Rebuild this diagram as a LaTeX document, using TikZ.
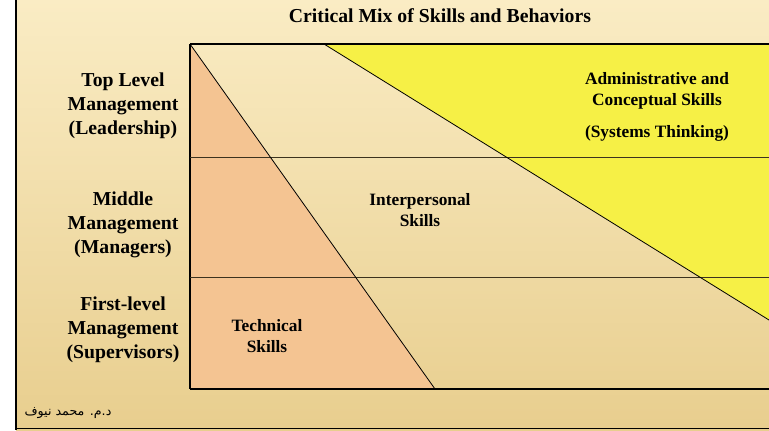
\documentclass[tikz,border=0pt]{standalone}
\usepackage{fontspec}
\setmainfont{Liberation Serif}
\newfontfamily\arabicfont[Script=Arabic]{DejaVu Sans}
\TeXXeTstate=1
\tikzset{every picture/.style={line width=0.75pt}}
\tikzset{
  lvltext/.style={anchor=center,inner sep=0.75pt,align=center,font=\fontsize{14.8}{18}\selectfont\bfseries},
  skilltext/.style={anchor=center,inner sep=0.75pt,align=center,font=\fontsize{13}{16}\selectfont\bfseries}
}
\definecolor{bgtop}{RGB}{250,236,196}
\definecolor{bgbot}{RGB}{232,206,142}
\definecolor{techfill}{RGB}{244,196,146}
\definecolor{concfill}{RGB}{246,240,70}

\begin{document}
\begin{tikzpicture}[x=0.75pt,y=0.75pt,yscale=-1,xscale=1]
\useasboundingbox (0,0) rectangle (769,430);

%Shape: Background
\shade [top color=bgtop, bottom color=bgbot] (16,0) rectangle (769,430);
%Shape: Border left
\draw [line width=1.5] (16,0) -- (16,430);
%Shape: Border bottom
\draw [line width=1] (16,428.5) -- (769,428.5);

%Shape: Conceptual area
\fill [concfill] (324,44) -- (769,44) -- (769,320) -- cycle;
%Shape: Technical area
\fill [techfill] (190,44) -- (435,389) -- (190,389) -- cycle;

%Shape: Frame lines
\draw [line width=1] (190,44) -- (769,44);
\draw [line width=1] (190,389) -- (769,389);
\draw [line width=1] (190,44) -- (190,389);
\draw [color={rgb, 255:red, 60; green, 50; blue, 30 }] (190,157) -- (769,157);
\draw [color={rgb, 255:red, 60; green, 50; blue, 30 }] (190,277) -- (769,277);
%Shape: Diagonals
\draw [line width=0.6] (190,44) -- (435,389);
\draw [line width=0.6] (324,44) -- (769,320);

% Text Node
\draw (440,16) node (title) [anchor=center][inner sep=0.75pt] [font=\fontsize{14.8}{17}\selectfont\bfseries] {Critical Mix of Skills and Behaviors};
% Text Node
\draw (123,106) node (top) [lvltext] {Top Level\\Management\\(Leadership)};
% Text Node
\draw (123,225) node (mid) [lvltext] {Middle\\Management\\(Managers)};
% Text Node
\draw (123,330) node (first) [lvltext] {First-level\\Management\\(Supervisors)};
% Text Node
\draw (267,336) node (tech) [skilltext] {Technical\\Skills};
% Text Node
\draw (420,210) node (inter) [skilltext] {Interpersonal\\Skills};
% Text Node
\draw (657,91) node (admin) [skilltext] {Administrative and\\Conceptual Skills};
% Text Node
\draw (657,133) node (sys) [skilltext] {(Systems Thinking)};
% Text Node
\draw (23,413) node (author) [anchor=west][inner sep=0.75pt] [font=\fontsize{9.5}{11}\selectfont] {\arabicfont\beginR د.م. محمد نيوف\endR};

\end{tikzpicture}
\end{document}
